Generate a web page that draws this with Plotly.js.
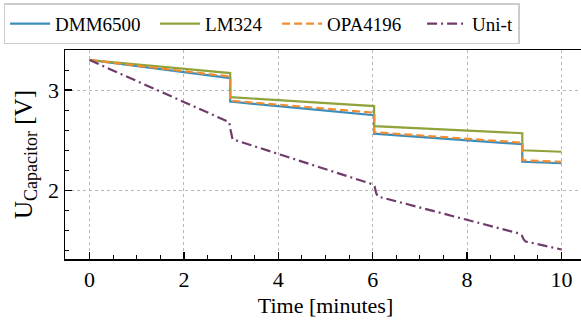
<!DOCTYPE html>
<html>
<head>
<meta charset="utf-8">
<script src="https://cdn.plot.ly/plotly-3.0.1.min.js"></script>
<style>
html, body { margin:0; padding:0; overflow:hidden; background:#fff; }
#chart { width:600px; height:327px; }
#chart svg text, #chart svg tspan { font-family:"Liberation Serif", serif !important; }
</style>
</head>
<body>
<div id="chart"></div>
<script>
// Time [minutes] and capacitor voltage [V] for each meter
const dmmTime = [0, 2.98, 2.98, 6.03, 6.03, 9.17, 9.17, 10];
const dmmVolt = [3.30, 3.12, 2.885, 2.75, 2.565, 2.46, 2.285, 2.27];

const lmTime = [0, 2.98, 2.98, 6.03, 6.03, 9.17, 9.17, 10];
const lmVolt = [3.30, 3.17, 2.93, 2.84, 2.64, 2.57, 2.40, 2.385];

const opaTime = [0, 2.98, 2.98, 6.03, 6.03, 9.17, 9.17, 10];
const opaVolt = [3.30, 3.135, 2.895, 2.775, 2.58, 2.475, 2.30, 2.285];

const unitTime = [0, 2.80, 2.96, 2.99, 3.03, 6.00, 6.04, 6.07, 6.10, 9.10, 9.16, 9.20, 9.24, 10];
const unitVolt = [3.30, 2.72, 2.68, 2.60, 2.51, 2.06, 2.04, 1.98, 1.94, 1.57, 1.55, 1.51, 1.49, 1.41];

const seriesNames = ["DMM6500", "LM324", "OPA4196", "Uni-t"];
const xTickVals = [0, 2, 4, 6, 8, 10];
const yTickVals = [2, 3];

const serifFamily = "Liberation Serif";

const traces = [
  {x: dmmTime, y: dmmVolt, name: seriesNames[0], mode: "lines", legendwidth: 95,
   line: {color: "#3a8dbb", width: 2.2}},
  {x: lmTime, y: lmVolt, name: seriesNames[1], mode: "lines", legendwidth: 67,
   line: {color: "#8ea33a", width: 2.2}},
  {x: opaTime, y: opaVolt, name: seriesNames[2], mode: "lines", legendwidth: 90,
   line: {color: "#f28c30", width: 2.2, dash: "8px,4px"}},
  {x: unitTime, y: unitVolt, name: seriesNames[3], mode: "lines",
   line: {color: "#6f3b6b", width: 2.2, dash: "10px,4px,2px,4px"}}
];

const layout = {
  width: 600, height: 327, autosize: false,
  margin: {l: 65, r: 14, t: 50, b: 68},
  paper_bgcolor: "#fff", plot_bgcolor: "#fff",
  font: {size: 22, color: "#000"},
  showlegend: true,
  legend: {
    orientation: "h", xref: "container", yref: "container",
    x: 0.006, y: 0.99, xanchor: "left", yanchor: "top",
    bordercolor: "#cccccc", borderwidth: 1.5, bgcolor: "#fff",
    font: {family: serifFamily, size: 19, color: "#000"},
    itemwidth: 40, tracegroupgap: 0
  },
  xaxis: {
    range: [-0.52, 10.52],
    tickvals: xTickVals, ticks: "inside", ticklen: 7, tickwidth: 1.5, tickcolor: "#000",
    showline: true, linecolor: "#000", linewidth: 1.5, mirror: true,
    showgrid: true, gridcolor: "#b8b8b8", griddash: "dot", gridwidth: 1,
    zeroline: false,
    minor: {dtick: 0.5, ticks: "inside", ticklen: 4, tickwidth: 1, tickcolor: "#000", showgrid: false},
    title: {text: "Time [minutes]", font: {family: serifFamily, size: 22, color: "#000"}, standoff: 6},
    tickfont: {family: serifFamily, size: 22, color: "#000"}
  },
  yaxis: {
    range: [1.315, 3.40],
    tickvals: yTickVals, ticks: "inside", ticklen: 7, tickwidth: 1.5, tickcolor: "#000",
    showline: true, linecolor: "#000", linewidth: 1.5, mirror: true,
    showgrid: true, gridcolor: "#b8b8b8", griddash: "dot", gridwidth: 1,
    zeroline: false,
    minor: {dtick: 0.2, ticks: "inside", ticklen: 4, tickwidth: 1, tickcolor: "#000", showgrid: false},
    title: {text: 'U<sub><span style="font-size:18px">Capacitor</span></sub> [V]',
            font: {family: serifFamily, size: 25, color: "#000"}, standoff: 8},
    tickfont: {family: serifFamily, size: 22, color: "#000"}
  }
};

const config = {displayModeBar: false, staticPlot: true};
Plotly.newPlot("chart", traces, layout, config);
</script>
</body>
</html>
